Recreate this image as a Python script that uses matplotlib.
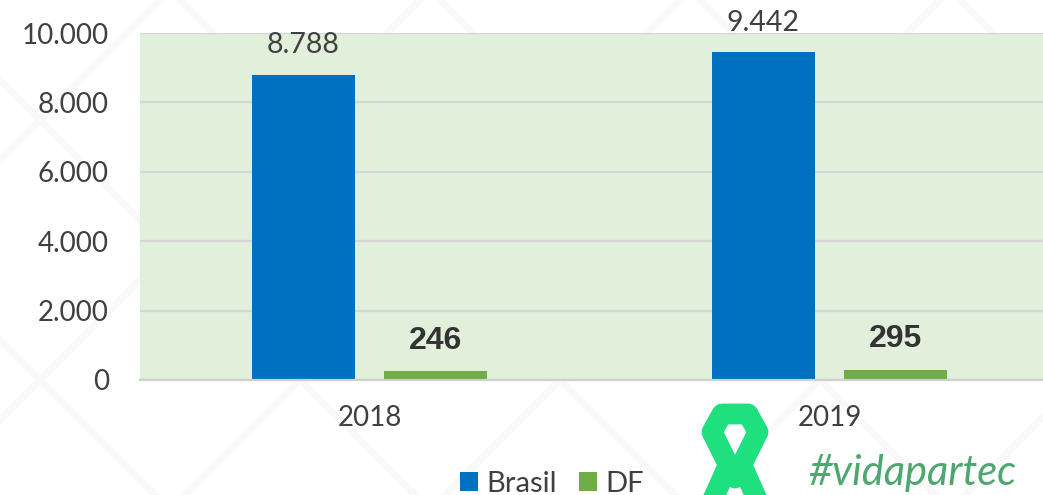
import matplotlib
matplotlib.use("Agg")
import matplotlib.pyplot as plt
from matplotlib.patches import Polygon
import numpy as np

categories = ["2018", "2019"]
brasil = [8788, 9442]
df_vals = [246, 295]
yticks = [0, 2000, 4000, 6000, 8000, 10000]
ytick_labels = ["0", "2.000", "4.000", "6.000", "8.000", "10.000"]

def fmt(v):
    return f"{v:,}".replace(",", ".")

plt.rcParams['font.family'] = ['Lato', 'DejaVu Sans']

W, H = 1043, 495
fig = plt.figure(figsize=(W/100, H/100), dpi=100)
fig.patch.set_facecolor("white")

# faint diagonal background pattern
bg = fig.add_axes([0, 0, 1, 1], zorder=-5)
bg.set_xlim(0, W); bg.set_ylim(H, 0); bg.axis("off")
for x0 in range(-600, 1600, 260):
    bg.plot([x0, x0 + 500], [0, 500], color="#f8f8f8", lw=5, zorder=-5)
    bg.plot([x0 + 500, x0], [0, 500], color="#f9f9f9", lw=5, zorder=-5)

left, right, top, bottom = 139.5, 1059.5, 33, 380
ax = fig.add_axes([left/W, (H-bottom)/H, (right-left)/W, (bottom-top)/H])
ax.set_facecolor("#E2EFDA")

x = np.arange(len(categories))
bw = 0.224
off = 0.1435
b1 = ax.bar(x - off, brasil, bw, color="#0070C0", label="Brasil", zorder=3)
b2 = ax.bar(x + off, df_vals, bw, color="#70AD47", label="DF", zorder=3)

ax.set_xlim(-0.5, 1.5)
ax.set_ylim(0, 10000)
ax.set_yticks(yticks)
ax.set_yticklabels(ytick_labels)
ax.set_xticks(x)
ax.set_xticklabels(categories)
ax.tick_params(axis="y", length=0, pad=22, labelsize=20, labelcolor="#404040")
ax.tick_params(axis="x", length=0, pad=18, labelsize=20, labelcolor="#404040")
ax.grid(axis="y", color="#D6D6D6", lw=1.6, zorder=1)
for s in ["top", "right", "left"]:
    ax.spines[s].set_visible(False)
ax.spines["bottom"].set_color("#D0D0D0")
ax.spines["bottom"].set_linewidth(1.6)
ax.spines["bottom"].set_zorder(4)

for xi, v in zip(x - off, brasil):
    ax.annotate(fmt(v), (xi, v), xytext=(0, 12), textcoords="offset points",
                ha="center", va="bottom", fontsize=20.5, color="#404040", annotation_clip=False)
for xi, v in zip(x + off, df_vals):
    ax.annotate(fmt(v), (xi, v), xytext=(0, 11), textcoords="offset points",
                ha="center", va="bottom", fontsize=23, fontweight="bold", color="#333333",
                family=["Liberation Sans", "DejaVu Sans"], annotation_clip=False)

fig.legend(handles=[b1, b2], labels=["Brasil", "DF"], loc="center",
           bbox_to_anchor=(552/W, (H-484)/H), ncol=2, frameon=False,
           fontsize=21, handlelength=0.62, handleheight=0.62, handletextpad=0.3,
           columnspacing=0.75, labelcolor="#404040", borderaxespad=0, borderpad=0)

# logo
fig.text(808/W, (H-485)/H, "#vidapartec", fontsize=30, style="italic",
         color="#4CA86E", ha="left", va="baseline", family=["Lato", "DejaVu Sans"])
ring = [(712, 432), (722, 414), (748, 414), (758, 432), (735, 478)]
bg.add_patch(Polygon(ring, closed=True, fill=False, edgecolor="#1EE07E", lw=15,
                     joinstyle="round", zorder=-4))
bg.plot([726, 714], [470, 497], color="#1EE07E", lw=15, zorder=-4)
bg.plot([744, 756], [470, 497], color="#1EE07E", lw=15, zorder=-4)

fig.savefig("out.png", dpi=100, facecolor="white")
